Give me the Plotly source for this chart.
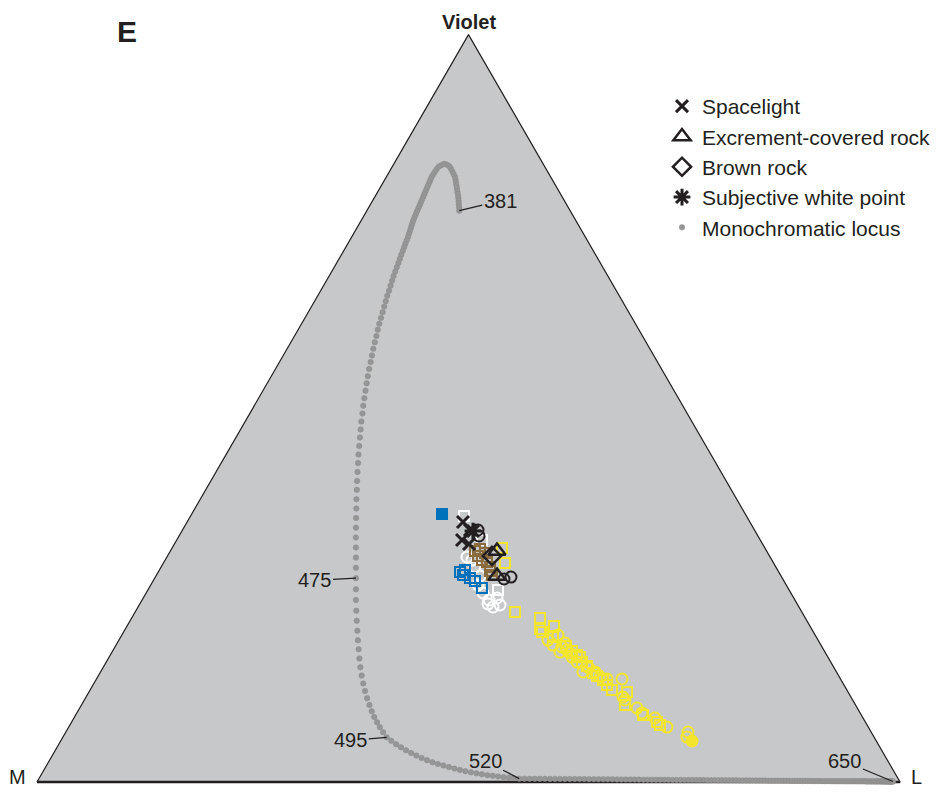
import math
import plotly.graph_objects as go

# ---------------------------------------------------------------------------
# Maxwell triangle coordinates (side length = 1, M at origin, L at (1, 0),
# Violet apex at (0.5, sqrt(3)/2)).
# ---------------------------------------------------------------------------

# Monochromatic locus, one point per nanometre
WAVELENGTH_NM = list(range(381, 651))

LOCUS_X = [
    # 381-425
    0.4893, 0.4891, 0.4888, 0.4886, 0.4883, 0.4879, 0.4873, 0.4867, 0.4862, 0.4856,
    0.4850, 0.4844, 0.4829, 0.4813, 0.4797, 0.4777, 0.4747, 0.4717, 0.4685, 0.4657,
    0.4632, 0.4613, 0.4593, 0.4573, 0.4559, 0.4546, 0.4532, 0.4518, 0.4504, 0.4490,
    0.4476, 0.4462, 0.4448, 0.4434, 0.4420, 0.4406, 0.4392, 0.4378, 0.4364, 0.4352,
    0.4341, 0.4331, 0.4320, 0.4309, 0.4299,
    # 426-475
    0.4284, 0.4269, 0.4254, 0.4238, 0.4221, 0.4205, 0.4188, 0.4169, 0.4151, 0.4132,
    0.4115, 0.4097, 0.4079, 0.4059, 0.4041, 0.4023, 0.4005, 0.3986, 0.3966, 0.3949,
    0.3933, 0.3914, 0.3897, 0.3881, 0.3866, 0.3849, 0.3833, 0.3820, 0.3807, 0.3793,
    0.3781, 0.3771, 0.3759, 0.3750, 0.3742, 0.3734, 0.3725, 0.3720, 0.3714, 0.3709,
    0.3706, 0.3701, 0.3700, 0.3698, 0.3696, 0.3695, 0.3695, 0.3696, 0.3696, 0.3696,
    # 476-495
    0.3696, 0.3696, 0.3700, 0.3705, 0.3712, 0.3718, 0.3727, 0.3736, 0.3747, 0.3762,
    0.3780, 0.3801, 0.3825, 0.3852, 0.3879, 0.3908, 0.3940, 0.3973, 0.4010, 0.4052,
    # 496-520
    0.4105, 0.4161, 0.4218, 0.4276, 0.4335, 0.4395, 0.4457, 0.4519, 0.4582, 0.4645,
    0.4709, 0.4773, 0.4837, 0.4900, 0.4964, 0.5028, 0.5092, 0.5155, 0.5219, 0.5282,
    0.5344, 0.5406, 0.5467, 0.5527, 0.5587,
    # 521-650
    0.5648, 0.5708, 0.5768, 0.5827, 0.5886, 0.5944, 0.6002, 0.6060, 0.6117, 0.6174,
    0.6231, 0.6287, 0.6342, 0.6397, 0.6452, 0.6506, 0.6560, 0.6613, 0.6666, 0.6719,
    0.6771, 0.6823, 0.6874, 0.6925, 0.6976, 0.7026, 0.7075, 0.7124, 0.7173, 0.7222,
    0.7270, 0.7317, 0.7364, 0.7411, 0.7457, 0.7503, 0.7548, 0.7593, 0.7638, 0.7682,
    0.7725, 0.7769, 0.7811, 0.7854, 0.7896, 0.7937, 0.7979, 0.8019, 0.8060, 0.8099,
    0.8139, 0.8178, 0.8217, 0.8255, 0.8292, 0.8330, 0.8367, 0.8403, 0.8439, 0.8475,
    0.8510, 0.8545, 0.8579, 0.8613, 0.8647, 0.8680, 0.8713, 0.8745, 0.8777, 0.8808,
    0.8839, 0.8870, 0.8900, 0.8929, 0.8959, 0.8988, 0.9016, 0.9044, 0.9072, 0.9099,
    0.9126, 0.9152, 0.9178, 0.9203, 0.9228, 0.9253, 0.9277, 0.9301, 0.9324, 0.9347,
    0.9370, 0.9392, 0.9414, 0.9435, 0.9456, 0.9476, 0.9496, 0.9515, 0.9535, 0.9553,
    0.9572, 0.9590, 0.9607, 0.9624, 0.9641, 0.9657, 0.9673, 0.9688, 0.9703, 0.9717,
    0.9731, 0.9745, 0.9758, 0.9771, 0.9783, 0.9795, 0.9807, 0.9818, 0.9828, 0.9839,
    0.9848, 0.9858, 0.9867, 0.9875, 0.9883, 0.9891, 0.9898, 0.9905, 0.9912, 0.9918,
]

LOCUS_Y = [
    # 381-425
    0.6620, 0.6656, 0.6692, 0.6728, 0.6764, 0.6798, 0.6834, 0.6869, 0.6905, 0.6940,
    0.6976, 0.7010, 0.7043, 0.7074, 0.7107, 0.7136, 0.7155, 0.7163, 0.7147, 0.7131,
    0.7103, 0.7073, 0.7043, 0.7013, 0.6980, 0.6947, 0.6914, 0.6881, 0.6848, 0.6815,
    0.6782, 0.6750, 0.6716, 0.6684, 0.6651, 0.6618, 0.6585, 0.6552, 0.6519, 0.6486,
    0.6451, 0.6417, 0.6382, 0.6349, 0.6315,
    # 426-475
    0.6277, 0.6238, 0.6197, 0.6154, 0.6110, 0.6064, 0.6015, 0.5966, 0.5914, 0.5862,
    0.5808, 0.5751, 0.5693, 0.5634, 0.5572, 0.5509, 0.5444, 0.5378, 0.5309, 0.5240,
    0.5168, 0.5095, 0.5020, 0.4943, 0.4866, 0.4786, 0.4703, 0.4621, 0.4535, 0.4448,
    0.4360, 0.4270, 0.4178, 0.4086, 0.3991, 0.3893, 0.3795, 0.3695, 0.3593, 0.3489,
    0.3385, 0.3277, 0.3168, 0.3058, 0.2947, 0.2833, 0.2717, 0.2600, 0.2482, 0.2362,
    # 476-495
    0.2233, 0.2109, 0.1985, 0.1869, 0.1753, 0.1642, 0.1538, 0.1431, 0.1329, 0.1233,
    0.1141, 0.1054, 0.0971, 0.0892, 0.0819, 0.0753, 0.0692, 0.0635, 0.0577, 0.0518,
    # 496-520
    0.0477, 0.0438, 0.0402, 0.0367, 0.0336, 0.0306, 0.0278, 0.0253, 0.0229, 0.0209,
    0.0190, 0.0173, 0.0155, 0.0140, 0.0125, 0.0112, 0.0100, 0.0089, 0.0079, 0.0071,
    0.0063, 0.0056, 0.0050, 0.0044, 0.0039,
    # 521-650
    0.0039, 0.0038, 0.0038, 0.0037, 0.0037, 0.0036, 0.0036, 0.0036, 0.0035, 0.0035,
    0.0035, 0.0034, 0.0034, 0.0033, 0.0033, 0.0032, 0.0032, 0.0031, 0.0031, 0.0030,
    0.0030, 0.0029, 0.0029, 0.0028, 0.0028, 0.0027, 0.0027, 0.0026, 0.0026, 0.0025,
    0.0025, 0.0025, 0.0024, 0.0024, 0.0024, 0.0023, 0.0023, 0.0023, 0.0022, 0.0022,
    0.0022, 0.0021, 0.0021, 0.0021, 0.0020, 0.0020, 0.0020, 0.0019, 0.0019, 0.0019,
    0.0018, 0.0018, 0.0018, 0.0017, 0.0017, 0.0017, 0.0016, 0.0016, 0.0016, 0.0015,
    0.0015, 0.0015, 0.0015, 0.0014, 0.0014, 0.0014, 0.0014, 0.0013, 0.0013, 0.0013,
    0.0013, 0.0012, 0.0012, 0.0012, 0.0012, 0.0011, 0.0011, 0.0011, 0.0011, 0.0010,
    0.0010, 0.0010, 0.0010, 0.0010, 0.0009, 0.0009, 0.0009, 0.0009, 0.0009, 0.0009,
    0.0008, 0.0008, 0.0008, 0.0008, 0.0008, 0.0008, 0.0008, 0.0008, 0.0008, 0.0008,
    0.0008, 0.0008, 0.0007, 0.0007, 0.0007, 0.0007, 0.0007, 0.0007, 0.0007, 0.0007,
    0.0007, 0.0007, 0.0007, 0.0007, 0.0007, 0.0006, 0.0006, 0.0006, 0.0006, 0.0006,
    0.0006, 0.0006, 0.0006, 0.0006, 0.0006, 0.0006, 0.0006, 0.0006, 0.0006, 0.0006,
]

assert len(LOCUS_X) == len(LOCUS_Y) == len(WAVELENGTH_NM)

# Wavelengths annotated along the locus
LABELLED_NM = [381, 475, 495, 520, 650]

# Reference stimuli
SPACELIGHT_X = [0.4936, 0.5017, 0.4925, 0.5006]
SPACELIGHT_Y = [0.3013, 0.2920, 0.2804, 0.2758]

EXCREMENT_ROCK_X = [0.5330, 0.5330]
EXCREMENT_ROCK_Y = [0.2677, 0.2387]

BROWN_ROCK_X = [0.5272]
BROWN_ROCK_Y = [0.2619]

WHITE_POINT_X = [0.5052]
WHITE_POINT_Y = [0.2908]

# Sample loci, grouped by colour and symbol
BLACK_CIRCLE_X = [0.5110, 0.5411, 0.5492, 0.5122]
BLACK_CIRCLE_Y = [0.2920, 0.2352, 0.2375, 0.2851]

BROWN_SQUARE_X = [0.5075, 0.5133, 0.5191, 0.5156, 0.5214, 0.5249, 0.5249, 0.5272, 0.5110]
BROWN_SQUARE_Y = [0.2677, 0.2700, 0.2654, 0.2572, 0.2549, 0.2491, 0.2445, 0.2399, 0.2619]

BLUE_SQUARE_X = [0.4902, 0.4959, 0.4936, 0.5017, 0.5075, 0.5156]
BLUE_SQUARE_Y = [0.2433, 0.2457, 0.2399, 0.2364, 0.2329, 0.2248]

BLUE_FILLED_X = [0.4693]
BLUE_FILLED_Y = [0.3105]

WHITE_CIRCLE_X = [0.4983, 0.5041, 0.5075, 0.5110, 0.5168, 0.5238, 0.5284, 0.5226,
                  0.5330, 0.5133, 0.5365]
WHITE_CIRCLE_Y = [0.2607, 0.2572, 0.2491, 0.2283, 0.2190, 0.2109, 0.2028, 0.2063,
                  0.2132, 0.2387, 0.2051]

WHITE_SQUARE_X = [0.4948, 0.5156, 0.5342]
WHITE_SQUARE_Y = [0.3082, 0.2804, 0.2225]

YELLOW_SQUARE_X = [0.5388, 0.5423, 0.5539, 0.5829, 0.5829, 0.5991, 0.5852, 0.5979,
                   0.6292, 0.6315, 0.6443, 0.6559, 0.6605, 0.6837, 0.6813, 0.7022,
                   0.7184, 0.7219, 0.6257, 0.6199, 0.6130, 0.6373, 0.6489, 0.6663]
YELLOW_SQUARE_Y = [0.2711, 0.2538, 0.1970, 0.1900, 0.1773, 0.1808, 0.1738, 0.1680,
                   0.1448, 0.1391, 0.1263, 0.1182, 0.1124, 0.1043, 0.0892, 0.0776,
                   0.0695, 0.0660, 0.1472, 0.1518, 0.1576, 0.1344, 0.1228, 0.1066]

YELLOW_CIRCLE_X = [0.5921, 0.6037, 0.6083, 0.6141, 0.6176, 0.6199, 0.6118, 0.6327,
                   0.6466, 0.6524, 0.6605, 0.6779, 0.6790, 0.6813, 0.6953, 0.7010,
                   0.7161, 0.7300, 0.7543, 0.7532, 0.6396, 0.6257, 0.5979, 0.6060]
YELLOW_CIRCLE_Y = [0.1645, 0.1703, 0.1564, 0.1530, 0.1495, 0.1448, 0.1611, 0.1275,
                   0.1275, 0.1217, 0.1194, 0.1194, 0.0985, 0.0950, 0.0857, 0.0800,
                   0.0742, 0.0637, 0.0579, 0.0521, 0.1321, 0.1391, 0.1587, 0.1506]

YELLOW_FILLED_X = [0.7590]
YELLOW_FILLED_Y = [0.0475]

# ---------------------------------------------------------------------------
# Styling
# ---------------------------------------------------------------------------
FIG_W, FIG_H = 947, 795
SIDE_PX = 863            # drawn length of one triangle side
ORIGIN_PX = (37, 782)    # where the M vertex sits on the page
FONT = "Liberation Sans, Arial, Helvetica, sans-serif"
INK = "#231f20"
FILL_GREY = "#c6c8ca"
LOCUS_GREY = "#969696"
YELLOW = "#f2e52c"
BLUE = "#0071bb"
BROWN = "#8b6c3e"

H = math.sqrt(3) / 2

fig = go.Figure()

# Triangle body and outline
fig.add_trace(go.Scatter(
    x=[0, 1, 0.5, 0], y=[0, 0, H, 0], mode="lines", fill="toself",
    fillcolor=FILL_GREY, line=dict(color=INK, width=1.2),
    hoverinfo="skip", showlegend=False,
))
fig.add_trace(go.Scatter(
    x=[0, 1], y=[0, 0], mode="lines", line=dict(color=INK, width=2.6),
    hoverinfo="skip", showlegend=False,
))


def scatter(x, y, name, symbol, color, size, width=2.0, fill=None, legend=False, rank=None):
    marker = dict(symbol=symbol, size=size, color=fill if fill else color,
                  line=dict(color=color, width=width))
    return go.Scatter(x=x, y=y, mode="markers", name=name, marker=marker,
                      showlegend=legend, legendrank=rank if rank else 1000,
                      legendgroup=name)


# Sample clouds
fig.add_trace(scatter(WHITE_CIRCLE_X, WHITE_CIRCLE_Y, "white circles", "circle-open", "white", 11))
fig.add_trace(scatter(WHITE_SQUARE_X, WHITE_SQUARE_Y, "white squares", "square-open", "white", 10))
fig.add_trace(scatter(YELLOW_SQUARE_X, YELLOW_SQUARE_Y, "yellow squares", "square-open", YELLOW, 10))
fig.add_trace(scatter(YELLOW_CIRCLE_X, YELLOW_CIRCLE_Y, "yellow circles", "circle-open", YELLOW, 11))
fig.add_trace(scatter(YELLOW_FILLED_X, YELLOW_FILLED_Y, "yellow filled", "circle", YELLOW, 11, fill=YELLOW))
fig.add_trace(scatter(BROWN_SQUARE_X, BROWN_SQUARE_Y, "brown squares", "square-open", BROWN, 10))
fig.add_trace(scatter(BLUE_SQUARE_X, BLUE_SQUARE_Y, "blue squares", "square-open", BLUE, 10))
fig.add_trace(scatter(BLUE_FILLED_X, BLUE_FILLED_Y, "blue filled", "square", BLUE, 10, fill=BLUE))
fig.add_trace(scatter(BLACK_CIRCLE_X, BLACK_CIRCLE_Y, "black circles", "circle-open", INK, 11))

# Reference stimuli (these carry the legend)
fig.add_trace(scatter(SPACELIGHT_X, SPACELIGHT_Y, "Spacelight", "x-thin-open", INK, 12,
                      width=3, legend=True, rank=1))
fig.add_trace(scatter(EXCREMENT_ROCK_X, EXCREMENT_ROCK_Y, "Excrement-covered rock",
                      "triangle-up-open", INK, 15, width=2.5, legend=True, rank=2))
fig.add_trace(scatter(BROWN_ROCK_X, BROWN_ROCK_Y, "Brown rock", "diamond-open", INK, 14,
                      width=2.5, legend=True, rank=3))
fig.add_trace(scatter(WHITE_POINT_X, WHITE_POINT_Y, "Subjective white point", "asterisk-open",
                      INK, 14, width=3, legend=True, rank=4))

# Monochromatic locus
fig.add_trace(go.Scatter(
    x=LOCUS_X, y=LOCUS_Y, mode="markers", name="Monochromatic locus",
    text=[f"{nm} nm" for nm in WAVELENGTH_NM],
    marker=dict(symbol="circle", size=5.5, color=LOCUS_GREY,
                line=dict(color="#8a8a8a", width=0.5)),
    legendrank=5, legendgroup="locus",
))

# Wavelength call-outs with leader lines (offsets in screen pixels)
label_offsets = {381: (41, -10), 475: (-41, 2), 495: (-36, 3), 520: (-34, -18), 650: (-48, -20)}
for nm in LABELLED_NM:
    i = WAVELENGTH_NM.index(nm)
    ax, ay = label_offsets[nm]
    fig.add_annotation(
        x=LOCUS_X[i], y=LOCUS_Y[i], text=str(nm), showarrow=True, arrowhead=0,
        arrowwidth=1.2, arrowcolor=INK, ax=ax, ay=ay,
        font=dict(family=FONT, size=20, color=INK),
    )

# Vertex names
fig.add_annotation(x=0.5, y=H, text="<b>Violet</b>", showarrow=False, xanchor="center",
                   yanchor="bottom", yshift=0, font=dict(family=FONT, size=20, color=INK))
fig.add_annotation(x=0, y=0, text="M", showarrow=False, xanchor="right", yanchor="middle",
                   xshift=-9, yshift=5, font=dict(family=FONT, size=20, color=INK))
fig.add_annotation(x=1, y=0, text="L", showarrow=False, xanchor="left", yanchor="middle",
                   xshift=9, yshift=5, font=dict(family=FONT, size=20, color=INK))

# Panel letter
fig.add_annotation(x=127 / FIG_W, y=1 - 32 / FIG_H, xref="paper", yref="paper", text="<b>E</b>",
                   xanchor="center", yanchor="middle",
                   showarrow=False, font=dict(family=FONT, size=30, color=INK))

x0, y0 = ORIGIN_PX
fig.update_layout(
    width=FIG_W, height=FIG_H,
    margin=dict(l=0, r=0, t=0, b=0, pad=0),
    paper_bgcolor="white", plot_bgcolor="white",
    xaxis=dict(range=[-x0 / SIDE_PX, (FIG_W - x0) / SIDE_PX], visible=False, fixedrange=True),
    yaxis=dict(range=[-(FIG_H - y0) / SIDE_PX, y0 / SIDE_PX], visible=False, fixedrange=True),
    legend=dict(
        x=662 / FIG_W, y=1 - 86 / FIG_H, xanchor="left", yanchor="top",
        bgcolor="rgba(0,0,0,0)", font=dict(family=FONT, size=21, color=INK),
        tracegroupgap=0, itemclick=False, itemdoubleclick=False,
    ),
    font=dict(family=FONT, color=INK),
    hovermode="closest",
)

fig.write_html("out.html")
